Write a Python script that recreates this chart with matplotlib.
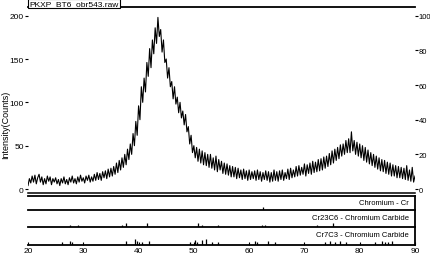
import numpy as np
import matplotlib
matplotlib.use("Agg")
import matplotlib.pyplot as plt

plt.rcParams['font.family'] = ['Liberation Sans', 'DejaVu Sans']

# 2theta scan, 0.25 deg step, 20..90 (one row per degree)
two_theta = np.arange(20.0, 90.01, 0.25)
counts = [
    4, 12, 7, 15, 8, 16, 6, 13, 17, 8, 14, 5, 12, 6, 15, 9,
    14, 5, 12, 8, 13, 6, 11, 4, 12, 7, 14, 6, 11, 5, 13, 8,
    15, 7, 12, 6, 14, 8, 16, 9, 13, 7, 15, 10, 16, 8, 14, 9,
    17, 10, 19, 11, 18, 10, 20, 13, 21, 12, 23, 14, 24, 15, 26, 17,
    30, 19, 33, 22, 36, 25, 40, 28, 46, 34, 52, 40, 64, 50, 78, 62,
    96, 80, 118, 100, 128, 112, 146, 130, 162, 140, 172, 156, 186, 168, 198, 176,
    184, 158, 172, 146, 150, 128, 140, 118, 124, 104, 118, 98, 106, 88, 100, 82,
    90, 74, 86, 66, 72, 52, 62, 42, 50, 36, 48, 32, 46, 30, 44, 28,
    42, 27, 40, 25, 40, 24, 36, 22, 38, 20, 34, 22, 32, 18, 30, 17,
    29, 16, 27, 14, 26, 14, 25, 12, 24, 13, 22, 11, 23, 12, 21, 10,
    22, 11, 20, 12, 21, 10, 22, 11, 20, 9, 19, 11, 21, 10, 20, 8,
    19, 9, 22, 10, 20, 9, 21, 11, 22, 10, 19, 12, 23, 11, 24, 13,
    22, 14, 26, 15, 27, 16, 25, 17, 29, 15, 28, 18, 30, 17, 32, 19,
    31, 20, 34, 21, 35, 22, 37, 24, 38, 26, 41, 28, 44, 30, 46, 33,
    48, 35, 51, 38, 52, 40, 56, 42, 58, 42, 66, 44, 56, 40, 54, 38,
    52, 36, 50, 33, 48, 31, 45, 29, 42, 27, 40, 25, 38, 23, 36, 21,
    34, 20, 33, 18, 31, 17, 30, 15, 28, 15, 27, 13, 26, 13, 25, 12,
    24, 11, 27, 10, 22, 9, 25, 8, 15,
]

# reference patterns: positions (deg) and relative stick heights
cr_pos = [62.5]
cr_int = [20]
cr23c6_pos = [27.6, 29.1, 37.0, 37.7, 41.6, 50.8, 51.5, 54.4, 62.3, 62.9, 72.3, 75.1]
cr23c6_int = [12, 12, 12, 24, 24, 24, 12, 12, 12, 12, 12, 24]
cr7c3_pos = [26.2, 27.6, 28.0, 37.8, 39.3, 39.8, 40.6, 41.8, 49.3, 50.2, 50.5, 51.5,
             52.2, 53.3, 54.4, 61.0, 61.4, 63.5, 64.7, 73.7, 74.7, 75.6, 76.5, 77.6,
             82.8, 84.0, 84.6, 85.2, 85.8]
cr7c3_int = [12, 18, 12, 18, 34, 18, 12, 18, 12, 24, 12, 24,
             30, 12, 12, 18, 12, 18, 12, 12, 18, 12, 18, 12,
             12, 18, 12, 12, 18]
labels = ["Chromium - Cr", "Cr23C6 - Chromium Carbide", "Cr7C3 - Chromium Carbide"]

W, H = 431, 255
fig = plt.figure(figsize=(W / 100, H / 100), dpi=100)


def rect(x0, x1, y0, y1):
    return [x0 / W, 1 - y1 / H, (x1 - x0) / W, (y1 - y0) / H]


ax = fig.add_axes(rect(28, 415, 8, 193.5))
ax.plot(two_theta, counts, color='black', lw=0.8)
ax.set_xlim(20, 90)
ax.set_ylim(-4.0, 210)
for s in ['left', 'right']:
    ax.spines[s].set_visible(False)
ax.spines['top'].set_linewidth(1.3)
ax.spines['bottom'].set_linewidth(1.1)
ax.set_xticks([])
ax.set_yticks([0, 50, 100, 150, 200])
ax.tick_params(axis='y', length=2, width=0.8, labelsize=6, pad=1)
ax.set_ylabel("Intensity(Counts)", fontsize=6.5)
ax.yaxis.set_label_coords(-0.045, 0.37)
ax.text(0.003, 1.0, "PKXP_BT6_obr543.raw", transform=ax.transAxes, fontsize=6,
        va='bottom', ha='left',
        bbox=dict(boxstyle='square,pad=0.15', fc='white', ec='black', lw=0.8))

ax2 = ax.twinx()
ax2.set_ylim(-4.0 / 2, 105)
for s in ['left', 'right', 'bottom', 'top']:
    ax2.spines[s].set_visible(False)
ax2.set_yticks([0, 20, 40, 60, 80, 100])
ax2.tick_params(axis='y', length=2, width=0.8, labelsize=5.5, pad=0.5)

panels = [(196.5, 211), (211, 228), (228, 245.5)]
sticks = [(cr_pos, cr_int), (cr23c6_pos, cr23c6_int), (cr7c3_pos, cr7c3_int)]
for i, ((y0, y1), (pos, inten), lab) in enumerate(zip(panels, sticks, labels)):
    p = fig.add_axes(rect(28, 415, y0, y1))
    p.set_facecolor('none')
    p.vlines(pos, 0, inten, color='black', lw=0.9)
    p.set_xlim(20, 90)
    p.set_ylim(0, 100)
    p.spines['left'].set_visible(False)
    p.spines['top'].set_visible(i == 0)
    for s in p.spines.values():
        s.set_linewidth(1.3)
    p.set_yticks([])
    p.text(0.985, 0.55, lab, transform=p.transAxes, fontsize=5.5,
           ha='right', va='center')
    if i < 2:
        p.set_xticks([])
    else:
        p.set_xticks(range(20, 91, 10))
        p.tick_params(axis='x', direction='in', length=2, width=0.8,
                      labelsize=6, pad=2)

fig.savefig("out.png", dpi=100)
